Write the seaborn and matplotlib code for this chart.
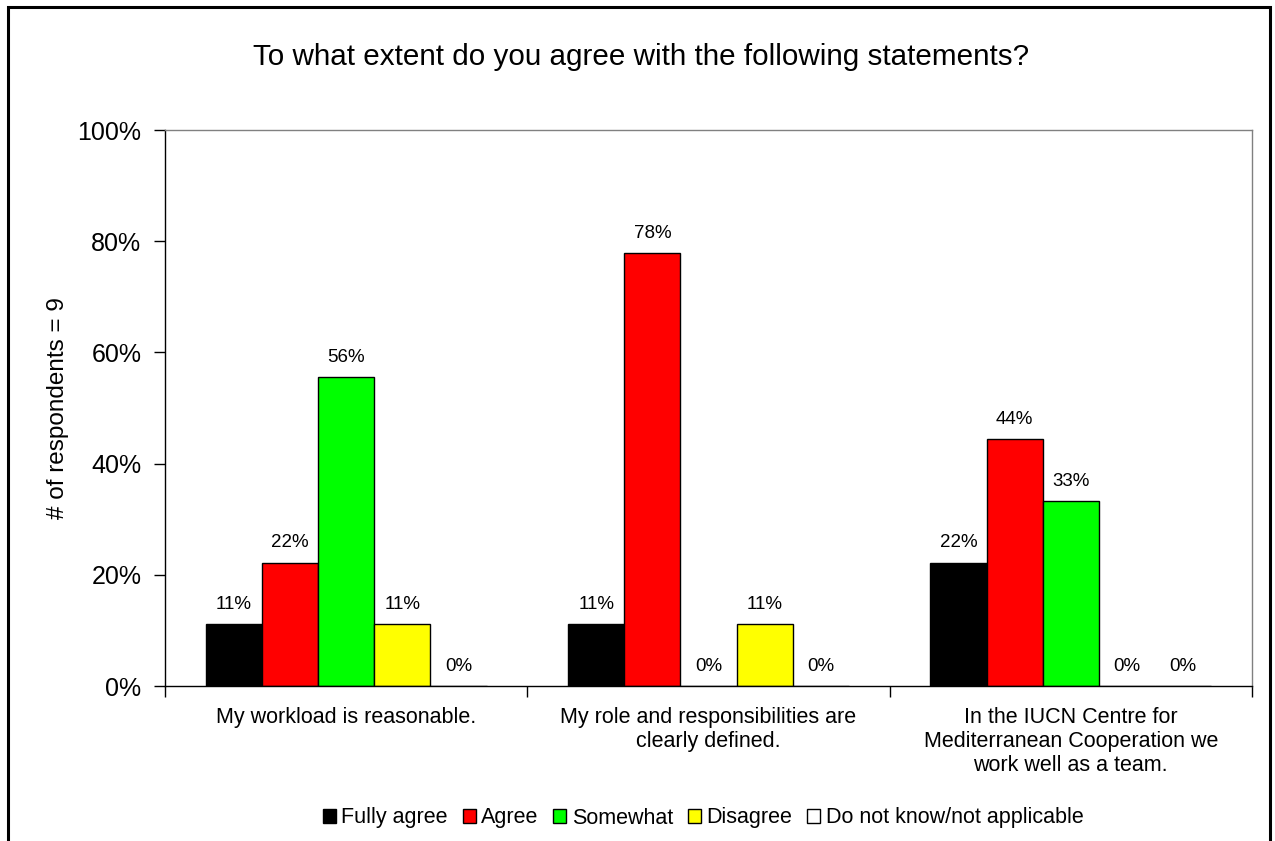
import pandas as pd
import matplotlib.pyplot as plt
import seaborn as sns
from matplotlib.patches import Rectangle
from matplotlib.ticker import FixedLocator

# data (% of 9 respondents)
statements = ["My workload is reasonable.",
              "My role and responsibilities are\nclearly defined.",
              "In the IUCN Centre for\nMediterranean Cooperation we\nwork well as a team."]
answers = ["Fully agree", "Agree", "Somewhat", "Disagree", "Do not know/not applicable"]
fully_agree = [11.1, 11.1, 22.2]
agree = [22.2, 77.8, 44.4]
somewhat = [55.6, 0, 33.3]
disagree = [11.1, 11.1, 0]
dont_know = [0, 0, 0]
colors = ["#000000", "#ff0000", "#00ff00", "#ffff00", "#ffffff"]

rows = []
for ans, vals in zip(answers, [fully_agree, agree, somewhat, disagree, dont_know]):
    for st, v in zip(statements, vals):
        rows.append({"statement": st, "answer": ans, "pct": v})
df = pd.DataFrame(rows)

sns.set_style("white")
plt.rcParams["font.family"] = ["Liberation Sans", "DejaVu Sans"]
plt.rcParams.update({"text.color": "black", "axes.labelcolor": "black",
                     "xtick.color": "black", "ytick.color": "black"})

fig = plt.figure(figsize=(12.75, 8.41), dpi=100)
ax = fig.add_axes([165/1275, 1-686/841, (1252-165)/1275, (686-130)/841])

sns.barplot(data=df, x="statement", y="pct", hue="answer", hue_order=answers,
            palette=colors, width=0.775, edgecolor="black", linewidth=1,
            saturation=1, ax=ax, legend=True)

for cont in ax.containers:
    ax.bar_label(cont, labels=[f"{round(b.get_height())}%" for b in cont],
                 padding=8, fontsize=13.5)

ax.set_ylim(0, 100)
ax.set_xlim(-0.5, 2.5)
ax.set_yticks(range(0, 101, 20))
ax.set_yticklabels([f"{t}%" for t in range(0, 101, 20)], fontsize=18)
ax.tick_params(axis="y", direction="out", length=8, width=1, left=True, pad=9)
ax.tick_params(axis="x", which="major", length=0, labelsize=15.5, pad=15)
ax.xaxis.set_minor_locator(FixedLocator([-0.5, 0.5, 1.5, 2.5]))
ax.tick_params(axis="x", which="minor", direction="out", length=8, width=1, bottom=True)
ax.set_xlabel("")
ax.set_ylabel("# of respondents = 9", fontsize=17.5, labelpad=6)
for t in ax.get_xticklabels():
    t.set_linespacing(1.2)

for s in ["top", "right"]:
    ax.spines[s].set_color("#808080")
for s in ["left", "bottom"]:
    ax.spines[s].set_color("black")
for s in ax.spines.values():
    s.set_linewidth(1)

ax.get_legend().remove()
handles, labels = ax.get_legend_handles_labels()
fig.legend(handles[:5], labels[:5], loc="center", bbox_to_anchor=(703/1275, 1-818/841),
           ncol=5, frameon=False, fontsize=15.5, handlelength=0.6, handleheight=0.6,
           handletextpad=0.25, columnspacing=0.7, borderaxespad=0)

fig.text(641/1275, 1-57/841, "To what extent do you agree with the following statements?",
         ha="center", va="center", fontsize=21.3)

# outer chart frame (bottom edge cut off in the original)
fig.patches.append(Rectangle((8/1275, -0.05), (1270-8)/1275, 0.05+1-7/841,
                             transform=fig.transFigure, fill=False, edgecolor="black",
                             linewidth=2.2))

fig.savefig("out.png", dpi=100)
plt.close()
